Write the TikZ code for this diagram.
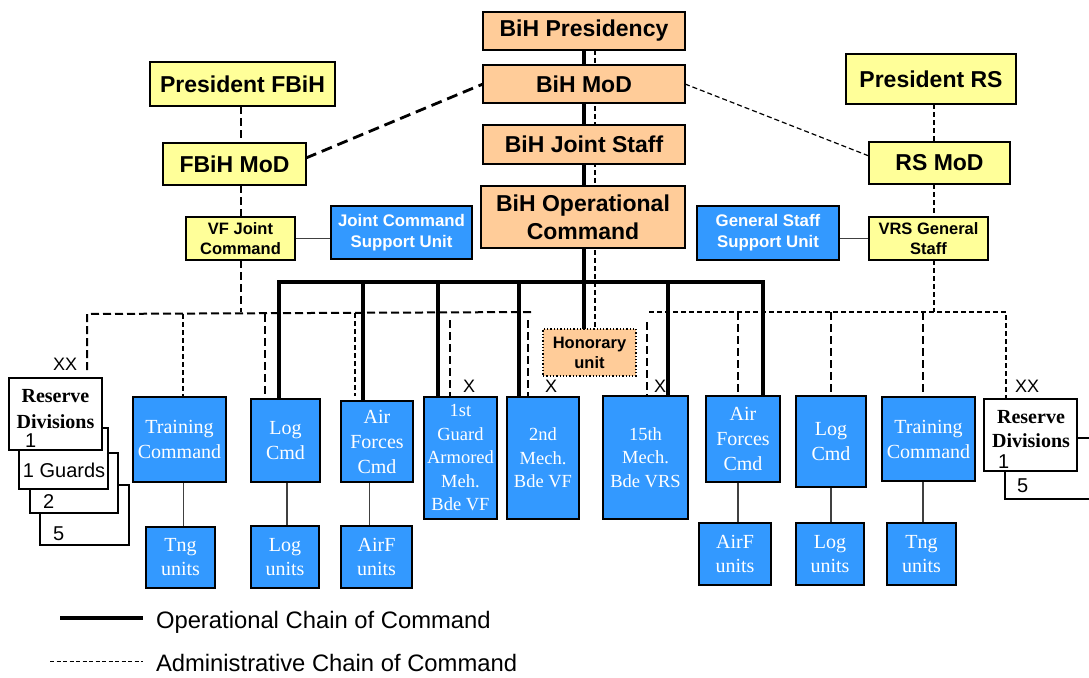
\documentclass[tikz,border=0pt]{standalone}
\usepackage{fontspec}
\setmainfont{Liberation Serif}
\setsansfont{Liberation Sans}
\usetikzlibrary{backgrounds,calc}
\definecolor{bluebox}{RGB}{51,153,255}
\definecolor{peach}{RGB}{255,204,153}
\definecolor{lyellow}{RGB}{255,255,153}
\begin{document}
\begin{tikzpicture}[x=1pt,y=-1pt,
  every node/.style={inner sep=0pt, outer sep=0pt},
  obox/.style={draw, line width=2pt, fill=peach, align=center, font=\sffamily\bfseries\fontsize{23}{28}\selectfont},
  ybig/.style={draw, line width=1.5pt, fill=lyellow, align=center, font=\sffamily\bfseries\fontsize{23}{28}\selectfont},
  ysmall/.style={draw, line width=1.5pt, fill=lyellow, align=center, font=\sffamily\bfseries\fontsize{16.5}{20}\selectfont},
  bsup/.style={draw, line width=1.5pt, fill=bluebox, text=white, align=center, font=\sffamily\bfseries\fontsize{16.8}{21}\selectfont},
  cmd/.style={draw, line width=1.8pt, fill=bluebox, text=white, align=center, font=\rmfamily\fontsize{20}{25}\selectfont},
  bde/.style={cmd, font=\rmfamily\fontsize{18.5}{23.5}\selectfont},
  unitbox/.style={cmd, font=\rmfamily\fontsize{20}{24}\selectfont},
  honbox/.style={draw, line width=1.3pt, dotted, fill=peach, align=center, font=\sffamily\bfseries\fontsize{16.5}{20}\selectfont},
  resbox/.style={draw, line width=1.4pt, fill=white},
  restxt/.style={font=\rmfamily\bfseries\fontsize{20}{25}\selectfont, anchor=base},
  numtxt/.style={font=\sffamily\fontsize{20}{24}\selectfont, anchor=base west},
  xtxt/.style={font=\sffamily\fontsize{18}{22}\selectfont, anchor=base west},
  legtxt/.style={font=\sffamily\fontsize{23.8}{28}\selectfont, anchor=base west},
  opline/.style={line width=4pt},
  admthick/.style={line width=2pt, dash pattern=on 8pt off 4pt},
  admthin/.style={line width=1.2pt, dash pattern=on 5pt off 3pt},
  diagdash/.style={line width=2.8pt, dash pattern=on 11pt off 6pt},
  legdash/.style={line width=1pt, dash pattern=on 4pt off 2.5pt},
  conn/.style={line width=1.3pt, black!75}
]
\useasboundingbox (0,0) rectangle (1089,677);

% central column
\node[obox, minimum width=202, minimum height=38] (pres) at (584,31) {BiH Presidency};
\node[obox, minimum width=202, minimum height=38] (mod) at (584,84) {BiH MoD};
\node[obox, minimum width=202, minimum height=39] (js) at (584,144.5) {BiH Joint Staff};
\node[obox, minimum width=204, minimum height=62] (opc) at (583,217) {BiH Operational\\Command};

% left hierarchy
\node[ybig, minimum width=185, minimum height=44] (pfbih) at (242.5,84) {President FBiH};
\node[ybig, minimum width=143, minimum height=42] (fmod) at (234.5,164) {FBiH MoD};
\node[ysmall, minimum width=109, minimum height=43] (vfj) at (240.5,238.5) {VF Joint\\Command};
\node[bsup, minimum width=141, minimum height=53] (jcsu) at (401.5,232.5) {Joint Command\\Support Unit};

% right hierarchy
\node[ybig, minimum width=170, minimum height=50] (prs) at (931,79) {President RS};
\node[ybig, minimum width=141, minimum height=42] (rmod) at (939.5,163) {RS MoD};
\node[ysmall, minimum width=119, minimum height=43] (vrs) at (928.5,238.5) {VRS General\\Staff};
\node[bsup, minimum width=142, minimum height=54] (gssu) at (768,233) {General Staff\\Support Unit};

% honorary unit
\node[honbox, minimum width=93, minimum height=47] (hon) at (589.5,352.5) {Honorary\\unit};

% command row
\node[cmd, minimum width=93, minimum height=85] (tcL) at (179.5,439.5) {Training\\Command};
\node[cmd, minimum width=69, minimum height=83] (lcL) at (285.5,440.5) {Log\\Cmd};
\node[cmd, minimum width=72, minimum height=81] (afL) at (377,441.5) {Air\\Forces\\Cmd};
\node[bde, minimum width=73, minimum height=122] (g1) at (460.5,458) {1st\\Guard\\Armored\\Meh.\\Bde VF};
\node[bde, minimum width=72, minimum height=122] (m2) at (543,458) {2nd\\Mech.\\Bde VF};
\node[bde, minimum width=85, minimum height=123] (m15) at (645.5,457.5) {15th\\Mech.\\Bde VRS};
\node[cmd, minimum width=74, minimum height=86] (afR) at (743,439) {Air\\Forces\\Cmd};
\node[cmd, minimum width=70, minimum height=91] (lcR) at (831,441.5) {Log\\Cmd};
\node[cmd, minimum width=93, minimum height=84] (tcR) at (928.5,439) {Training\\Command};

% unit row
\node[unitbox, minimum width=69, minimum height=61] (tuL) at (180.5,557.5) {Tng\\units};
\node[unitbox, minimum width=68, minimum height=62] (luL) at (285,557) {Log\\units};
\node[unitbox, minimum width=71, minimum height=62] (auL) at (376.5,557) {AirF\\units};
\node[unitbox, minimum width=72, minimum height=62] (auR) at (735,554) {AirF\\units};
\node[unitbox, minimum width=68, minimum height=62] (luR) at (830,554) {Log\\units};
\node[unitbox, minimum width=69, minimum height=62] (tuR) at (921.5,554) {Tng\\units};

% reserve divisions left (stacked)
\node[resbox, minimum width=89, minimum height=60] (rL4) at (84.5,515) {};
\node[numtxt] (rL4t) at (53,540) {5};
\node[resbox, minimum width=88, minimum height=60] (rL3) at (74,483) {};
\node[numtxt] (rL3t) at (43,508) {2};
\node[resbox, minimum width=89, minimum height=61] (rL2) at (63.5,458.5) {};
\node[numtxt] (rL2t) at (23,477) {1 Guards};
\node[resbox, minimum width=93, minimum height=72] (rL1) at (55.5,414) {};
\node[restxt] (rL1a) at (55.5,402) {Reserve};
\node[restxt] (rL1b) at (55.5,428) {Divisions};
\node[numtxt] (rL1t) at (25,447) {1};
\node[xtxt] (xxL) at (53,370) {XX};

% reserve divisions right
\node[resbox, minimum width=95, minimum height=61] (rR2) at (1052.5,468.5) {};
\node[numtxt] (rR2t) at (1017,492) {5};
\node[resbox, minimum width=93, minimum height=72] (rR1) at (1030.5,435) {};
\node[restxt] (rR1a) at (1031,423) {Reserve};
\node[restxt] (rR1b) at (1031,447) {Divisions};
\node[numtxt] (rR1t) at (998,468) {1};
\node[xtxt] (xxR) at (1015,392) {XX};

% brigade markers
\node[xtxt] (xg1) at (463,392) {X};
\node[xtxt] (xm2) at (545,392) {X};
\node[xtxt] (xm15) at (654,392) {X};

% legend
\coordinate (lg1a) at (60,618);
\coordinate (lg1b) at (143,618);
\coordinate (lg2a) at (50,661);
\coordinate (lg2b) at (143,661);
\node[legtxt] (lgt1) at (156,628) {Operational Chain of Command};
\node[legtxt] (lgt2) at (156,671) {Administrative Chain of Command};

% helper coordinates
\coordinate (hL0) at (87,314);
\coordinate (hL1) at (533,312);
\coordinate (xxLend) at (87,370);
\coordinate (dL1) at (183,314);
\coordinate (dL2) at (265,314);
\coordinate (dL3) at (355,313);
\coordinate (dL3e) at (355,396);
\coordinate (dL4) at (450,320);
\coordinate (dL5) at (528,320);
\coordinate (hR0) at (649,312);
\coordinate (hR1) at (1006,312);
\coordinate (dR1) at (647,322);
\coordinate (dR2) at (738,312);
\coordinate (dR3) at (831,312);
\coordinate (dR4) at (923,312);
\coordinate (bus0) at (279,282);
\coordinate (bus1) at (363,282);
\coordinate (bus2) at (438,282);
\coordinate (bus3) at (519,282);
\coordinate (bus4) at (668,282);
\coordinate (bus5) at (763,282);

\begin{pgfonlayer}{background}
  % administrative chain, centre
  \draw[admthin] ([xshift=11pt]pres.south) -- ([xshift=11pt]pres.south |- hon.north);
  \draw[diagdash] ([yshift=6pt]fmod.east) -- (mod.west);
  \draw[admthin] (mod.east) -- ([yshift=7pt]rmod.west);
  % left administrative
  \draw[admthick] (pfbih.south -| vfj.south) -- (fmod.north -| vfj.south);
  \draw[admthick] (fmod.south -| vfj.south) -- (vfj.north);
  \draw[admthick] (vfj.south) -- (vfj.south |- hL1);
  \draw[admthick] (xxLend) -- (hL0) -- (hL1);
  \draw[admthin] (dL1) -- (dL1 |- tcL.north);
  \draw[admthick] (dL2) -- (dL2 |- lcL.north);
  \draw[admthin] (dL3) -- (dL3e);
  \draw[admthick] (dL4) -- (dL4 |- g1.north);
  \draw[admthick] (dL5) -- (dL5 |- m2.north);
  % right administrative
  \draw[admthin] ([xshift=5.5pt]vrs.south |- prs.south) -- ([xshift=5.5pt]vrs.south |- rmod.north);
  \draw[admthin] ([xshift=5.5pt]vrs.south |- rmod.south) -- ([xshift=5.5pt]vrs.north);
  \draw[admthin] ([xshift=5.5pt]vrs.south) -- ([xshift=5.5pt]vrs.south |- hR0);
  \draw[admthin] (hR0) -- (hR1) -- (hR1 |- rR1.north);
  \draw[admthick] (dR1) -- (dR1 |- m15.north);
  \draw[admthick] (dR2) -- (dR2 |- afR.north);
  \draw[admthick] (dR3) -- (dR3 |- lcR.north);
  \draw[admthick] (dR4) -- (dR4 |- tcR.north);
  % operational chain
  \draw[opline] (pres.south) -- (pres.south |- hon.north);
  \draw[opline] (bus0 |- lcL.north) -- (bus0) -- (bus5) -- (bus5 |- afR.north);
  \draw[opline] (bus1) -- (bus1 |- afL.north);
  \draw[opline] (bus2) -- (bus2 |- g1.north);
  \draw[opline] (bus3) -- (bus3 |- m2.north);
  \draw[opline] (bus4) -- (bus4 |- m15.north);
  % support links
  \draw[conn] (vfj.east) -- (vfj.east -| jcsu.west);
  \draw[conn] (vrs.west -| gssu.east) -- (vrs.west);
  % unit links
  \draw[conn] ([xshift=3pt]tuL.north) -- ([xshift=3pt]tuL.north |- tcL.south);
  \draw[conn] ([xshift=2pt]luL.north) -- ([xshift=2pt]luL.north |- lcL.south);
  \draw[conn] ([xshift=-7pt]auL.north) -- ([xshift=-7pt]auL.north |- afL.south);
  \draw[conn] ([xshift=3pt]auR.north) -- ([xshift=3pt]auR.north |- afR.south);
  \draw[conn] ([xshift=1pt]luR.north) -- ([xshift=1pt]luR.north |- lcR.south);
  \draw[conn] ([xshift=1.5pt]tuR.north) -- ([xshift=1.5pt]tuR.north |- tcR.south);
\end{pgfonlayer}

% legend lines
\draw[opline] (lg1a) -- (lg1b);
\draw[legdash] (lg2a) -- (lg2b);
\end{tikzpicture}
\end{document}
